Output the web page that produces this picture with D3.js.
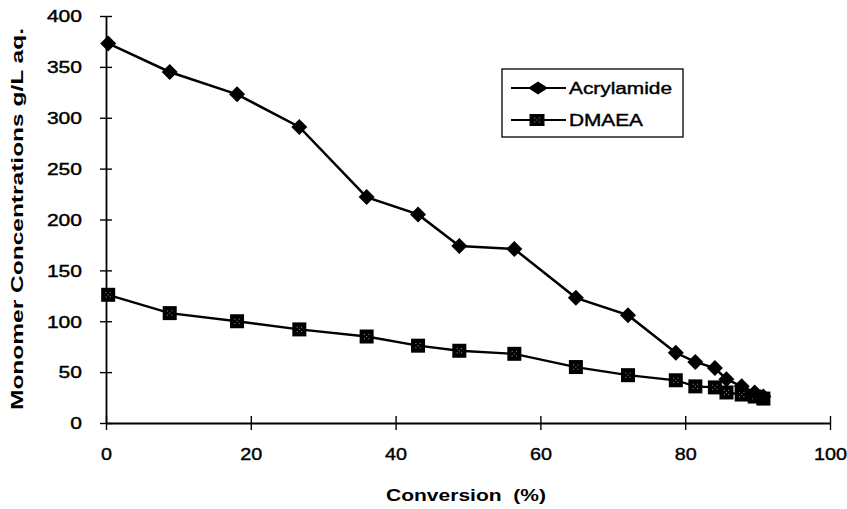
<!DOCTYPE html>
<html>
<head>
<meta charset="utf-8">
<script src="https://cdn.jsdelivr.net/npm/d3@7"></script>
<style>
  body { margin: 0; background: #fff; }
  text { font-family: "Liberation Sans", Arial, sans-serif; fill: #000; }
</style>
</head>
<body>
<div id="viz"></div>
<script>
// values
var conversion = [0.3, 8.8, 18.1, 26.7, 36.0, 43.1, 48.8, 56.4, 64.9, 72.1, 78.7, 81.4, 84.1, 85.7, 87.8, 89.6, 90.8];
var acrylamide = [373, 345, 323, 291, 222, 205, 174, 171, 123, 106, 69, 60, 54, 43, 36, 30, 26];
var dmaea      = [126, 108, 100, 92, 85, 76, 71, 68, 55, 47, 42, 36, 35, 30, 28, 26, 24];
var xTicks = [0, 20, 40, 60, 80, 100];
var yTicks = [0, 50, 100, 150, 200, 250, 300, 350, 400];
var seriesNames = ["Acrylamide", "DMAEA"];

var width = 847, height = 509;
var plotLeft = 106, plotRight = 830, plotTop = 16, plotBottom = 423;

var svg = d3.select("#viz")
    .append("svg")
    .attr("width", width)
    .attr("height", height);

var x = d3.scaleLinear().domain([0, 100]).range([plotLeft, plotRight]);
var y = d3.scaleLinear().domain([0, 400]).range([plotBottom, plotTop]);

// axes
var yAxis = svg.append("g")
    .attr("transform", "translate(" + plotLeft + ",0)")
    .call(d3.axisLeft(y).tickValues(yTicks).tickSize(6).tickSizeOuter(0));
yAxis.select(".domain").attr("stroke-width", 1.8);
yAxis.selectAll(".tick line").attr("x2", 6).attr("x1", -6).attr("stroke-width", 1.4);
yAxis.selectAll(".tick text")
    .attr("x", -24)
    .attr("dy", "0.36em")
    .style("font-size", "16px")
    .attr("stroke", "#000").attr("stroke-width", 0.4)
    .attr("textLength", function(d) { return String(d).length * 11.7; })
    .attr("lengthAdjust", "spacingAndGlyphs");

var xAxis = svg.append("g")
    .attr("transform", "translate(0," + plotBottom + ")")
    .call(d3.axisBottom(x).tickValues(xTicks).tickSize(6).tickSizeOuter(0));
xAxis.select(".domain").attr("stroke-width", 1.8);
xAxis.selectAll(".tick line").attr("y1", -7).attr("y2", 7).attr("stroke-width", 1.4);
xAxis.selectAll(".tick text")
    .attr("y", 31)
    .attr("dy", "0.36em")
    .style("font-size", "17px")
    .attr("stroke", "#000").attr("stroke-width", 0.4)
    .attr("textLength", function(d) { return String(d).length * 11; })
    .attr("lengthAdjust", "spacingAndGlyphs");

// titles
svg.append("text")
    .attr("x", 466).attr("y", 501)
    .attr("text-anchor", "middle")
    .style("font-size", "17px").style("font-weight", "bold")
    .style("white-space", "pre")
    .attr("textLength", 160).attr("lengthAdjust", "spacingAndGlyphs")
    .text("Conversion  (%)");

svg.append("text")
    .attr("transform", "translate(23,219) rotate(-90)")
    .attr("text-anchor", "middle")
    .style("font-size", "17px").style("font-weight", "bold")
    .attr("textLength", 382).attr("lengthAdjust", "spacingAndGlyphs")
    .text("Monomer Concentrations g/L aq.");

// lines
var line = d3.line()
    .x(function(d) { return x(d[0]); })
    .y(function(d) { return y(d[1]); });

var acrylData = d3.zip(conversion, acrylamide);
var dmaeaData = d3.zip(conversion, dmaea);

svg.append("path").datum(dmaeaData)
    .attr("d", line).attr("fill", "none").attr("stroke", "#000").attr("stroke-width", 2.3);
svg.append("path").datum(acrylData)
    .attr("d", line).attr("fill", "none").attr("stroke", "#000").attr("stroke-width", 2.5);

function drawSquare(g, cx, cy, w, h) {
    g.append("rect")
        .attr("x", cx - w / 2).attr("y", cy - h / 2)
        .attr("width", w).attr("height", h)
        .attr("fill", "#000");
    var dots = [[-2, -2], [2, -2], [0, 0], [-2, 2], [2, 2]];
    dots.forEach(function(p) {
        g.append("rect")
            .attr("x", cx + p[0] * w / 13 - 0.5).attr("y", cy + p[1] * h / 13 - 0.5)
            .attr("width", 1).attr("height", 1)
            .attr("fill", "#999");
    });
}

function diamondPath(cx, cy, w, h) {
    return "M" + cx + "," + (cy - h / 2) + "L" + (cx + w / 2) + "," + cy +
        "L" + cx + "," + (cy + h / 2) + "L" + (cx - w / 2) + "," + cy + "Z";
}

var sq = svg.append("g");
dmaeaData.forEach(function(d) { drawSquare(sq, x(d[0]), y(d[1]), 14, 14); });

svg.append("g").selectAll("path.dia")
    .data(acrylData)
    .enter().append("path")
    .attr("class", "dia")
    .attr("d", function(d) { return diamondPath(x(d[0]), y(d[1]), 16, 16); })
    .attr("fill", "#000");

// legend
var lg = svg.append("g");
lg.append("rect")
    .attr("x", 502).attr("y", 69)
    .attr("width", 181).attr("height", 68)
    .attr("fill", "#fff").attr("stroke", "#000").attr("stroke-width", 1.3);

seriesNames.forEach(function(name, i) {
    var ly = 88 + i * 32;
    lg.append("line")
        .attr("x1", 511).attr("x2", 566)
        .attr("y1", ly).attr("y2", ly)
        .attr("stroke", "#000").attr("stroke-width", 2);
    if (i === 0) {
        lg.append("path").attr("d", diamondPath(538, ly, 20, 13)).attr("fill", "#000");
    } else {
        drawSquare(lg, 537, ly, 15, 12);
    }
    lg.append("text")
        .attr("x", 569).attr("y", ly)
        .attr("dy", "0.36em")
        .style("font-size", "16px")
        .attr("stroke", "#000").attr("stroke-width", 0.4)
        .attr("textLength", i === 0 ? 103 : 74).attr("lengthAdjust", "spacingAndGlyphs")
        .text(name);
});
</script>
</body>
</html>
